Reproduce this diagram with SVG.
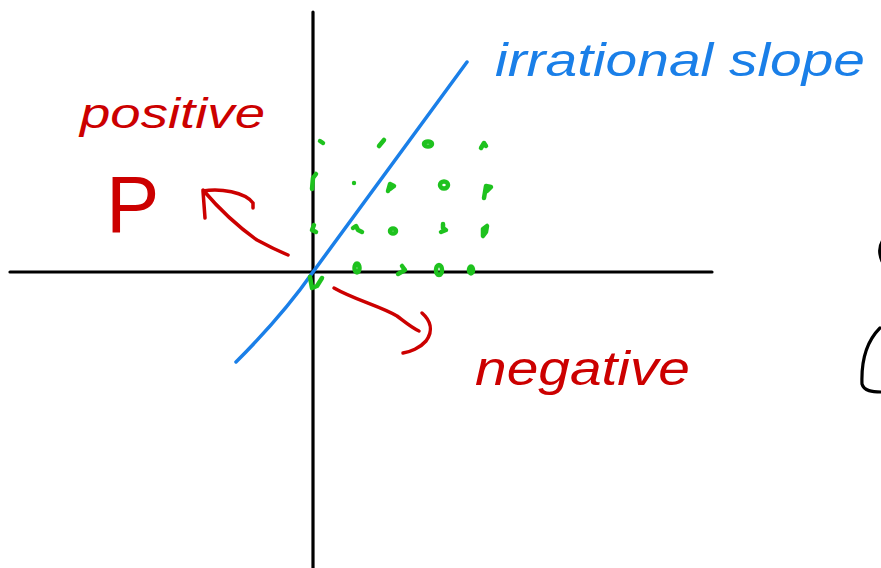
<svg xmlns="http://www.w3.org/2000/svg" width="881" height="568" viewBox="0 0 881 568">
<style>
.ax{stroke:#000;stroke-width:3.2;fill:none;stroke-linecap:round}
.blue{stroke:#1a7fe8;stroke-width:3.5;fill:none;stroke-linecap:round;stroke-linejoin:round}
.red{stroke:#cc0000;stroke-width:3.5;fill:none;stroke-linecap:round;stroke-linejoin:round}
.grn{stroke:#1ec21e;stroke-width:4.5;fill:none;stroke-linecap:round;stroke-linejoin:round}
.tr{fill:#cc0000;font-family:"Liberation Sans",sans-serif;font-style:italic}
.tb{fill:#1a7fe8;font-family:"Liberation Sans",sans-serif;font-style:italic}
.up{font-style:normal}
</style>
<rect width="881" height="568" fill="#fff"/>
<g id="axes">
<path class="ax" d="M313,12 L313,568"/>
<path class="ax" d="M10,272 L712,272"/>
</g>
<g id="slope-line">
<path class="blue" d="M236,362 C268,330 292,302 313,272 C340,236 390,168 467,62"/>
</g>
<g id="dots">
<path class="grn" d="M320,141 L323,143"/>
<path class="grn" d="M379,146 L384,140"/>
<ellipse class="grn" cx="428" cy="144" rx="4" ry="2.5"/>
<path class="grn" d="M481,148 L484,143 L486,146"/>
<path class="grn" d="M316,174 L313,178 L312,189"/>
<circle cx="354" cy="183" r="2.2" fill="#1ec21e"/>
<path class="grn" d="M388,191 L390,184 L394,186 L390,189"/>
<ellipse class="grn" cx="444" cy="185" rx="4" ry="3.5"/>
<path class="grn" d="M484,198 L486,186 L491,187 L487,191"/>
<path class="grn" d="M314,225 L312,230 L316,232"/>
<path class="grn" d="M353,228 L356,226 L358,230 L362,232"/>
<ellipse class="grn" cx="393" cy="231" rx="3" ry="2.5"/>
<path class="grn" d="M443,224 L443,228 L446,230 L441,232"/>
<path class="grn" d="M483,236 L483,229 L487,226 L486,232 Z"/>
<path class="grn" d="M310,277 L312,288 L317,286 L322,278"/>
<ellipse class="grn" cx="357" cy="268" rx="2.5" ry="4.5"/>
<path class="grn" d="M398,274 L405,270 L402,266"/>
<ellipse class="grn" cx="439" cy="270" rx="3" ry="5"/>
<ellipse class="grn" cx="471" cy="270" rx="2" ry="3.5"/>
</g>
<g id="connectors">
<path id="arrow-positive" class="red" d="M288,255 C276,250 268,246 257,240 C240,228 220,210 203,190 M205,218 L203,191 C220,188 245,192 253,203 M253,203 L253,208"/>
<path id="arrow-negative" class="red" d="M334,288 C355,300 380,306 397,316 C405,322 412,328 419,331 M422,313 C430,320 434,330 426,341 C420,348 410,352 403,353"/>
</g>
<g id="label-positive">
<text class="tr" x="80" y="128" font-size="42" textLength="185" lengthAdjust="spacingAndGlyphs">positive</text>
</g>
<g id="label-P">
<text class="tr up" x="106" y="232" font-size="80">P</text>
</g>
<g id="label-negative">
<text class="tr" x="475" y="385" font-size="48" textLength="215" lengthAdjust="spacingAndGlyphs">negative</text>
</g>
<g id="label-irrational">
<text class="tb" x="495" y="76" font-size="46" textLength="370" lengthAdjust="spacingAndGlyphs">irrational slope</text>
</g>
<g id="edge-marks">
<path class="ax" d="M883,240 C879,246 879,254 882,261"/>
<path class="ax" d="M880,328 C868,340 861,358 862,384 C864,391 872,392 882,392"/>
</g>
</svg>
